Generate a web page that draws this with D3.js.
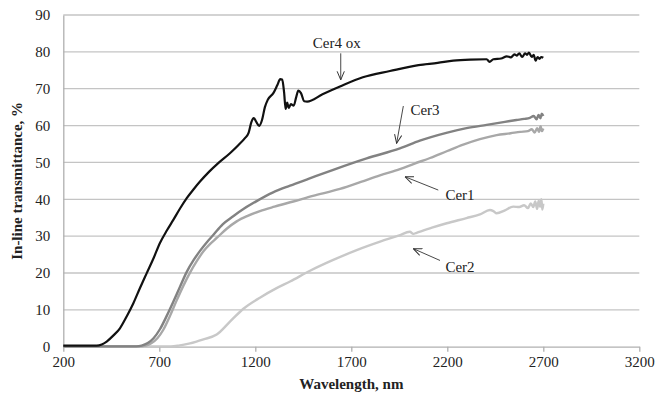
<!DOCTYPE html>
<html>
<head>
<meta charset="utf-8">
<script src="https://cdn.jsdelivr.net/npm/d3@7"></script>
<style>
  html, body { margin: 0; padding: 0; background: #fff; }
  svg { display: block; }
  text { font-family: "Liberation Serif", "Times New Roman", serif; fill: #222; }
</style>
</head>
<body>
<svg id="chart" width="667" height="396"></svg>
<script>
// Axis ticks
const xTicks = [200, 700, 1200, 1700, 2200, 2700, 3200];
const yTicks = [0, 10, 20, 30, 40, 50, 60, 70, 80, 90];

// Transmittance spectra: [wavelength nm, in-line transmittance %]
const cer4ox = [
  [200, 0.3], [374, 0.3], [400, 0.6], [426, 1.4], [460, 3], [495, 5], [530, 8.2], [565, 11.8],
  [600, 16], [634, 19.9], [670, 24], [704, 28.2], [740, 31.6], [773, 34.4], [808, 37.5],
  [843, 40.3], [880, 42.8], [912, 44.8], [960, 47.5], [1007, 49.8], [1068, 52.5], [1110, 54.6],
  [1146, 56.6], [1165, 58], [1180, 61], [1192, 62], [1205, 61], [1220, 59.9], [1235, 61.5],
  [1250, 65], [1265, 67], [1294, 68.8], [1315, 71], [1330, 72.6], [1340, 72.5], [1350, 69],
  [1358, 64.5], [1366, 66.2], [1374, 64.8], [1385, 65.8], [1400, 65.4], [1412, 67.5],
  [1424, 69.5], [1438, 68.8], [1455, 66.6], [1470, 66.5], [1550, 68.5], [1641, 70.6],
  [1760, 73.1], [1901, 74.8], [2050, 76.4], [2150, 77], [2231, 77.6], [2320, 77.9],
  [2405, 78], [2420, 77.3], [2440, 78], [2480, 78.2], [2510, 78.8], [2530, 78.5],
  [2550, 79.3], [2561, 79], [2575, 79.6], [2590, 78.6], [2605, 79.6], [2615, 79.2],
  [2625, 79.8], [2640, 78.6], [2650, 79.2], [2660, 77.6], [2670, 78.6], [2680, 78.1],
  [2690, 78.6], [2700, 78.4]
];
const cer3 = [
  [200, 0.1], [580, 0.1], [608, 0.3], [640, 1], [670, 2.3], [704, 4.8], [740, 8.5], [773, 12.2],
  [808, 16.3], [843, 20.3], [880, 23.6], [912, 26], [950, 28.5], [981, 30.3], [1030, 33.2],
  [1085, 35.4], [1140, 37.4], [1207, 39.5], [1290, 41.8], [1381, 43.7], [1480, 45.6],
  [1606, 48], [1780, 51.1], [1953, 53.8], [2057, 55.9], [2200, 58.1], [2300, 59.3],
  [2405, 60.2], [2500, 61], [2560, 61.5], [2600, 61.8], [2630, 62.1], [2650, 62.6],
  [2665, 61.7], [2675, 62.9], [2685, 62], [2692, 63.2], [2700, 62.6]
];
const cer1 = [
  [200, 0.1], [600, 0.1], [630, 0.3], [660, 1], [690, 2.3], [721, 4.6], [757, 8.5], [790, 12.5],
  [825, 16.5], [860, 20.1], [895, 23.2], [930, 25.9], [965, 27.9], [999, 29.5], [1051, 32],
  [1103, 34], [1160, 35.5], [1224, 36.8], [1300, 38], [1398, 39.4], [1500, 40.9],
  [1641, 42.8], [1750, 44.7], [1849, 46.5], [1953, 48.2], [2030, 49.7], [2110, 51.2],
  [2200, 53.1], [2283, 54.8], [2370, 56.3], [2457, 57.4], [2530, 57.9], [2580, 58.3],
  [2620, 58.5], [2640, 59], [2655, 58.1], [2668, 59.3], [2678, 58.3], [2686, 59.8],
  [2693, 58.5], [2700, 59.2]
];
const cer2 = [
  [200, 0.1], [760, 0.1], [800, 0.3], [860, 0.9], [930, 2], [999, 3.3], [1068, 6.8],
  [1138, 10.3], [1224, 13.3], [1311, 15.9], [1381, 17.7], [1485, 20.6], [1600, 23.4],
  [1728, 26.2], [1850, 28.5], [1950, 30.2], [2005, 31.2], [2023, 30.6], [2040, 30.9],
  [2120, 32.3], [2197, 33.5], [2300, 34.9], [2370, 35.9], [2422, 37.1], [2440, 36.8],
  [2457, 36.2], [2500, 37], [2543, 38], [2575, 37.9], [2600, 38.4], [2620, 37.6],
  [2635, 38.9], [2648, 37.9], [2658, 39.4], [2668, 37.4], [2676, 39.6], [2684, 38],
  [2690, 40], [2695, 37.2], [2700, 38.8]
];

const series = [
  { name: "Cer2", data: cer2, color: "#c8c8c8", width: 2.4 },
  { name: "Cer1", data: cer1, color: "#a8a8a8", width: 2.4 },
  { name: "Cer3", data: cer3, color: "#828282", width: 2.4 },
  { name: "Cer4 ox", data: cer4ox, color: "#111111", width: 2.2 }
];

// Callout labels: text position and arrow from -> to (in data units)
const callouts = [
  { text: "Cer4 ox", tx: 1624, ty: 81, from: [1645, 79.6], to: [1645, 72.4] },
  { text: "Cer3", tx: 2084, ty: 62.9, from: [1971, 65.3], to: [1936, 55.2] },
  { text: "Cer1", tx: 2266, ty: 39.8, from: [2153, 42.5], to: [1980, 46.1] },
  { text: "Cer2", tx: 2266, ty: 20.4, from: [2162, 23.4], to: [2023, 26.6] }
];

const svg = d3.select("#chart");
const margin = { left: 63.3, right: 639.3, top: 15, bottom: 346.7 };

const x = d3.scaleLinear().domain([200, 3200]).range([margin.left, margin.right]);
const y = d3.scaleLinear().domain([0, 90]).range([margin.bottom, margin.top]);

// Horizontal gridlines
svg.append("g")
  .selectAll("line")
  .data(yTicks.filter(d => d > 0))
  .join("line")
  .attr("x1", margin.left).attr("x2", margin.right)
  .attr("y1", d => y(d)).attr("y2", d => y(d))
  .attr("stroke", "#c4c4c4").attr("stroke-width", 1.3);

// Y axis
const yAxis = svg.append("g")
  .attr("transform", `translate(${margin.left},0)`)
  .call(d3.axisLeft(y).tickValues(yTicks).tickFormat(d3.format("d")).tickSize(0).tickPadding(13));
yAxis.select(".domain").attr("stroke", "#b0b0b0").attr("stroke-width", 1.3);
yAxis.selectAll("text").attr("font-size", 15).attr("font-family", "Liberation Serif").attr("fill", "#222");

// X axis
const xAxis = svg.append("g")
  .attr("transform", `translate(0,${margin.bottom})`)
  .call(d3.axisBottom(x).tickValues(xTicks).tickFormat(d3.format("d")).tickSize(5).tickSizeOuter(0).tickPadding(5));
xAxis.select(".domain").attr("stroke", "#b0b0b0").attr("stroke-width", 1.3);
xAxis.selectAll(".tick line").attr("stroke", "#b0b0b0").attr("stroke-width", 1.3);
xAxis.selectAll("text").attr("font-size", 15).attr("font-family", "Liberation Serif").attr("fill", "#222");

// Axis titles
svg.append("text")
  .attr("x", (margin.left + margin.right) / 2).attr("y", 389)
  .attr("text-anchor", "middle")
  .attr("font-size", 15).attr("font-weight", "bold")
  .text("Wavelength, nm");

svg.append("text")
  .attr("transform", `translate(22,${(margin.top + margin.bottom) / 2}) rotate(-90)`)
  .attr("text-anchor", "middle")
  .attr("font-size", 15).attr("font-weight", "bold")
  .text("In-line transmittance, %");

// Spectra
const line = d3.line().x(d => x(d[0])).y(d => y(d[1])).curve(d3.curveMonotoneX);
svg.append("g")
  .selectAll("path")
  .data(series)
  .join("path")
  .attr("d", d => line(d.data))
  .attr("fill", "none")
  .attr("stroke", d => d.color)
  .attr("stroke-width", d => d.width)
  .attr("stroke-linejoin", "round");

// Callout arrows with open heads
svg.append("defs").append("marker")
  .attr("id", "head")
  .attr("viewBox", "0 0 10 10")
  .attr("refX", 9.5).attr("refY", 5)
  .attr("markerWidth", 9).attr("markerHeight", 9)
  .attr("markerUnits", "userSpaceOnUse")
  .attr("orient", "auto")
  .append("path")
  .attr("d", "M0,1 L9.5,5 L0,9")
  .attr("fill", "none").attr("stroke", "#333").attr("stroke-width", 1.1);

const co = svg.append("g");
co.selectAll("line")
  .data(callouts)
  .join("line")
  .attr("x1", d => x(d.from[0])).attr("y1", d => y(d.from[1]))
  .attr("x2", d => x(d.to[0])).attr("y2", d => y(d.to[1]))
  .attr("stroke", "#333").attr("stroke-width", 0.9)
  .attr("marker-end", "url(#head)");
co.selectAll("text")
  .data(callouts)
  .join("text")
  .attr("x", d => x(d.tx)).attr("y", d => y(d.ty))
  .attr("text-anchor", "middle")
  .attr("font-size", 15)
  .text(d => d.text);
</script>
</body>
</html>
